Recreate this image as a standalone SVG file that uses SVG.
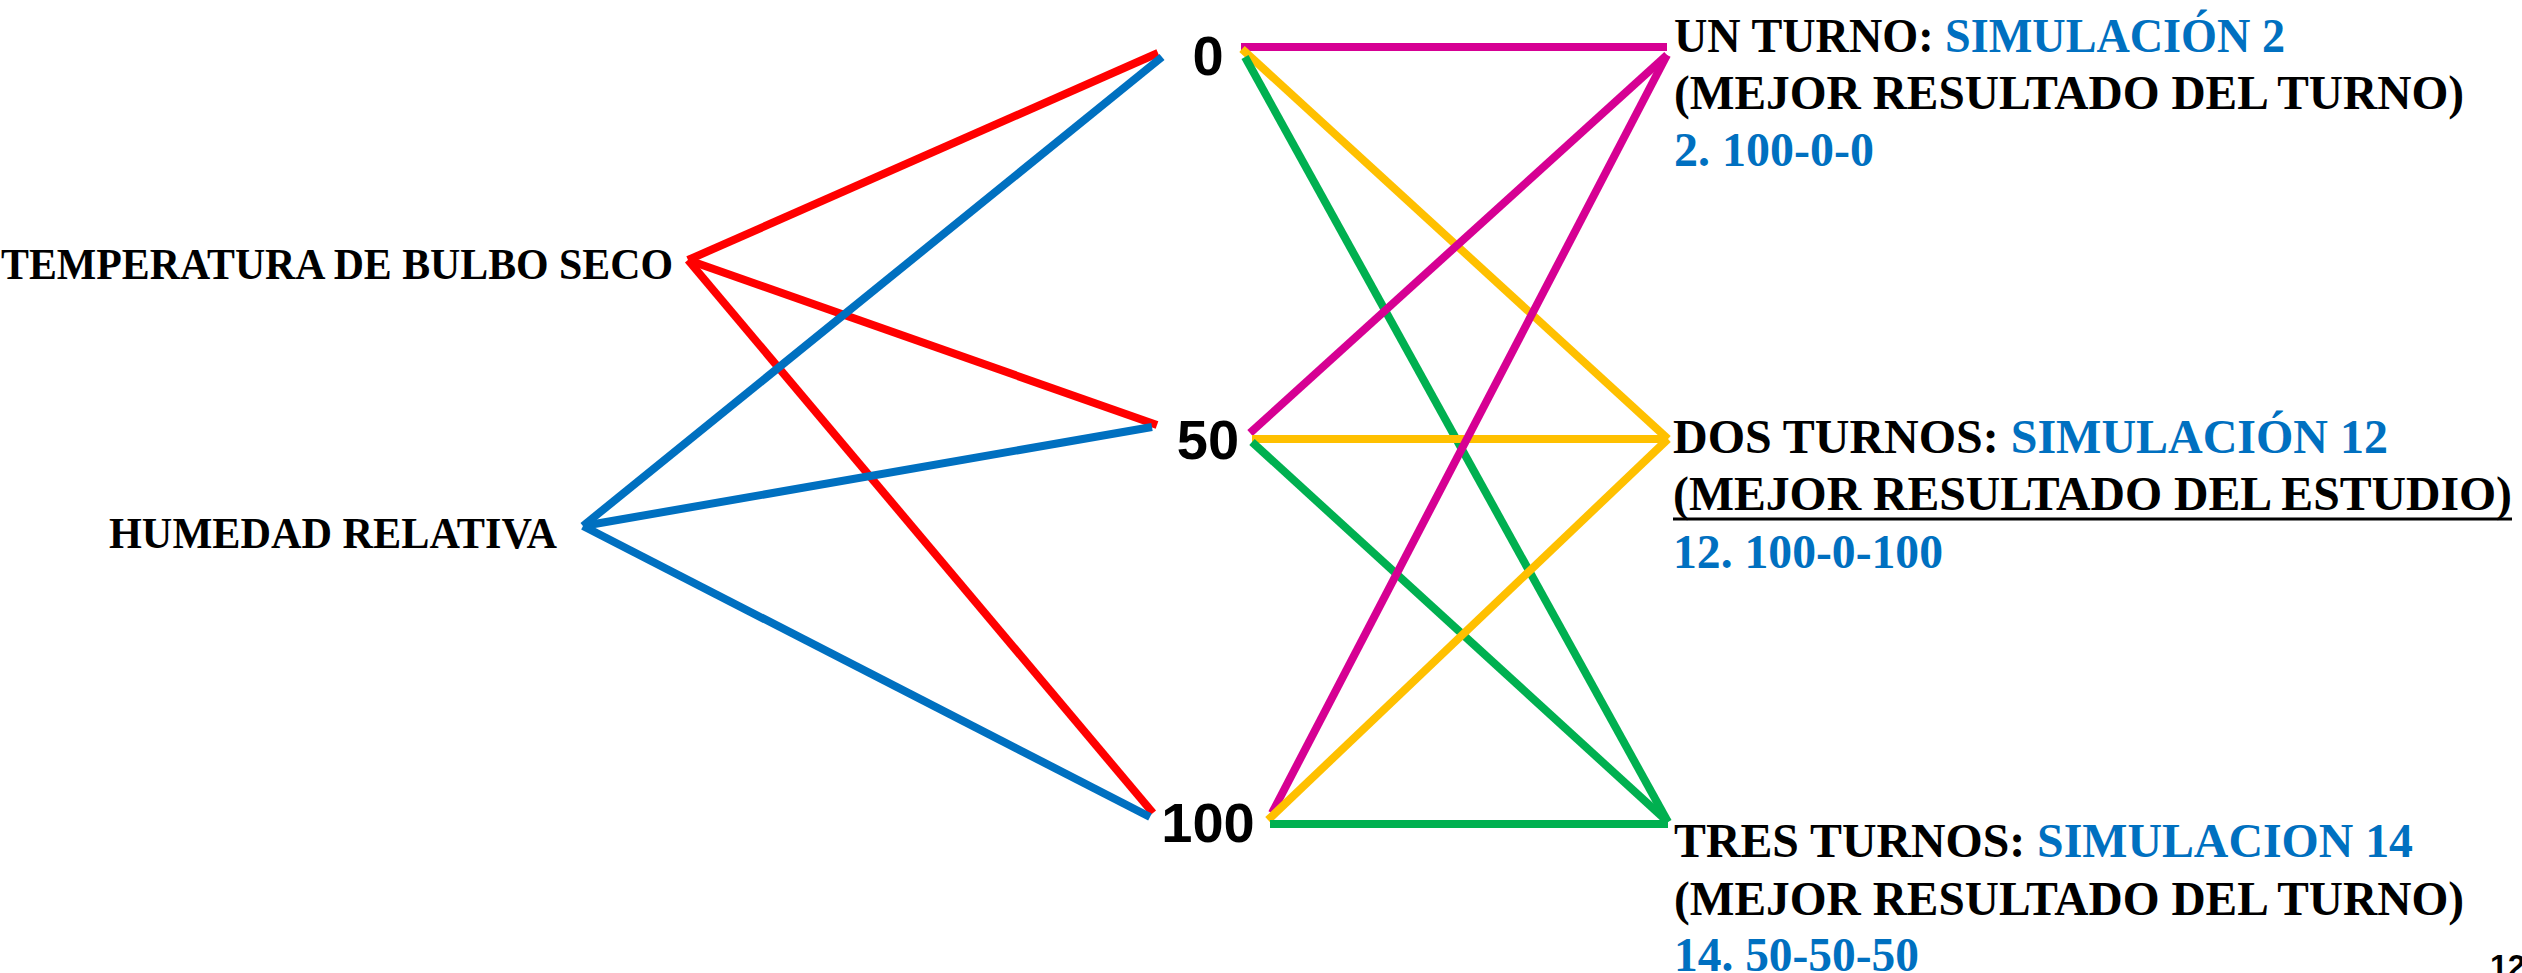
<svg xmlns="http://www.w3.org/2000/svg" width="2522" height="973" viewBox="0 0 2522 973">
<style>
.c{fill:none;stroke-width:8;stroke-linecap:butt}
.r{stroke:#FF0000}.b{stroke:#0070C0}.m{stroke:#D60093}.y{stroke:#FFC000}.g{stroke:#00B050}
.serif{font-family:"Liberation Serif","Times New Roman",serif;font-weight:bold;fill:#000}
.num{font-family:"Liberation Sans",Arial,sans-serif;font-weight:bold;font-size:56px;fill:#000;text-anchor:middle}
.big{font-size:48px}
.blue{fill:#0070C0}
</style>
<rect width="2522" height="973" fill="#fff"/>
<g id="connectors">
<line class="c r" x1="688" y1="260" x2="1158" y2="53"/>
<line class="c r" x1="688" y1="260" x2="1157" y2="425"/>
<line class="c r" x1="688" y1="260" x2="1153" y2="813"/>
<line class="c b" x1="583" y1="526" x2="1162" y2="57"/>
<line class="c b" x1="583" y1="526" x2="1152" y2="427"/>
<line class="c b" x1="583" y1="526" x2="1150" y2="817"/>
<line class="c m" x1="1241" y1="47" x2="1667" y2="47"/>
<line class="c y" x1="1242" y1="49" x2="1668" y2="439"/>
<line class="c g" x1="1245" y1="57" x2="1668" y2="822"/>
<line class="c m" x1="1250" y1="433" x2="1667" y2="55"/>
<line class="c y" x1="1252" y1="439" x2="1668" y2="439"/>
<line class="c g" x1="1252" y1="442" x2="1668" y2="822"/>
<line class="c m" x1="1272" y1="813" x2="1667" y2="55"/>
<line class="c y" x1="1268" y1="820" x2="1668" y2="439"/>
<line class="c g" x1="1270" y1="824" x2="1668" y2="824"/>
</g>
<g id="temperatura">
<text class="serif" x="1" y="279" font-size="45" textLength="672" lengthAdjust="spacingAndGlyphs">TEMPERATURA DE BULBO SECO</text>
</g>
<g id="humedad">
<text class="serif" x="109" y="548" font-size="44" textLength="448" lengthAdjust="spacingAndGlyphs">HUMEDAD RELATIVA</text>
</g>
<g id="n0"><text class="num" x="1208" y="75">0</text></g>
<g id="n50"><text class="num" x="1208" y="459">50</text></g>
<g id="n100"><text class="num" x="1208" y="842">100</text></g>
<g id="un-turno">
<text class="serif big" x="1674" y="52" textLength="611" lengthAdjust="spacingAndGlyphs">UN TURNO: <tspan class="blue">SIMULACIÓN 2</tspan></text>
<text class="serif big" x="1674" y="109" textLength="790" lengthAdjust="spacingAndGlyphs">(MEJOR RESULTADO DEL TURNO)</text>
<text class="serif big blue" x="1674" y="166" textLength="200" lengthAdjust="spacingAndGlyphs">2. 100-0-0</text>
</g>
<g id="dos-turnos">
<text class="serif big" x="1673" y="453" textLength="715" lengthAdjust="spacingAndGlyphs">DOS TURNOS: <tspan class="blue">SIMULACIÓN 12</tspan></text>
<text class="serif big" x="1673" y="510" textLength="839" lengthAdjust="spacingAndGlyphs">(MEJOR RESULTADO DEL ESTUDIO)</text>
<line x1="1673" y1="519" x2="2512" y2="519" stroke="#000" stroke-width="3"/>
<text class="serif big blue" x="1673" y="568" textLength="270" lengthAdjust="spacingAndGlyphs">12. 100-0-100</text>
</g>
<g id="tres-turnos">
<text class="serif big" x="1674" y="857" textLength="739" lengthAdjust="spacingAndGlyphs">TRES TURNOS: <tspan class="blue">SIMULACION 14</tspan></text>
<text class="serif big" x="1674" y="915" textLength="790" lengthAdjust="spacingAndGlyphs">(MEJOR RESULTADO DEL TURNO)</text>
<text class="serif big blue" x="1674" y="971" textLength="245" lengthAdjust="spacingAndGlyphs">14. 50-50-50</text>
</g>
<g id="page-number">
<text x="2490" y="977" font-family="Liberation Sans, Arial, sans-serif" font-weight="bold" font-size="32" fill="#000">12</text>
</g>
</svg>
